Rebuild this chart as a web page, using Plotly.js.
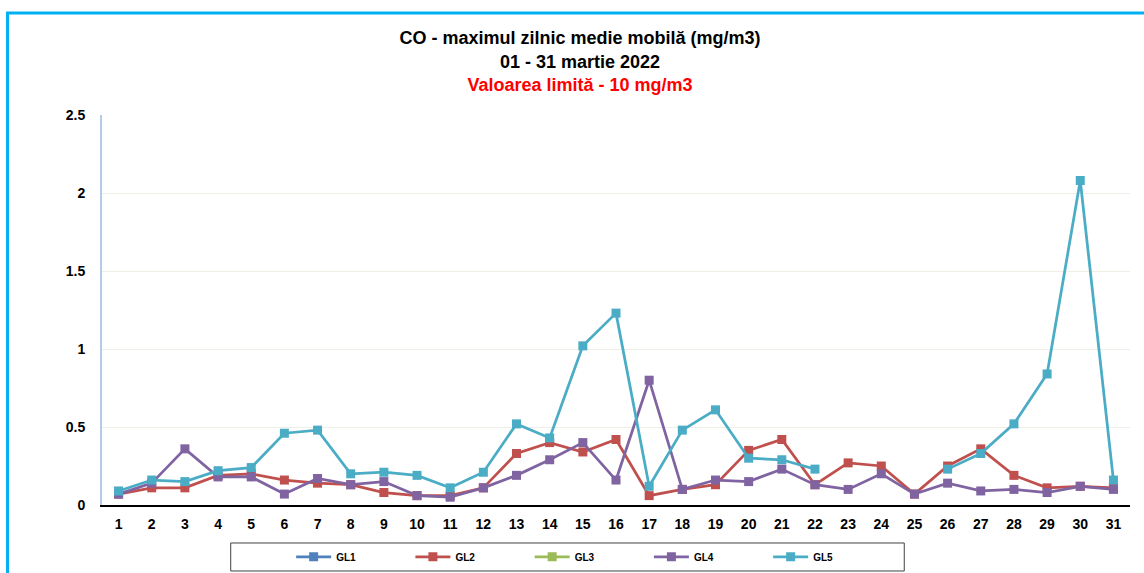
<!DOCTYPE html>
<html>
<head>
<meta charset="utf-8">
<script src="https://cdn.plot.ly/plotly-3.0.1.min.js"></script>
<style>html,body{margin:0;padding:0;background:#fff;}#chart{width:1144px;height:573px;}</style>
</head>
<body>
<div id="chart"></div>
<script>
var days = [1,2,3,4,5,6,7,8,9,10,11,12,13,14,15,16,17,18,19,20,21,22,23,24,25,26,27,28,29,30,31];
var seriesNames = ["GL1","GL2","GL3","GL4","GL5"];
var seriesColors = ["#4f81bd","#c0504d","#9bbb59","#8064a2","#4bacc6"];
var gl1 = [null,null,null,null,null,null,null,null,null,null,null,null,null,null,null,null,null,null,null,null,null,null,null,null,null,null,null,null,null,null,null];
var gl2 = [0.07,0.11,0.11,0.19,0.20,0.16,0.14,0.13,0.08,0.06,0.06,0.11,0.33,0.40,0.34,0.42,0.06,0.10,0.13,0.35,0.42,0.13,0.27,0.25,0.07,0.25,0.36,0.19,0.11,0.12,0.11];
var gl3 = [null,null,null,null,null,null,null,null,null,null,null,null,null,null,null,null,null,null,null,null,null,null,null,null,null,null,null,null,null,null,null];
var gl4 = [0.07,0.14,0.36,0.18,0.18,0.07,0.17,0.13,0.15,0.06,0.05,0.11,0.19,0.29,0.40,0.16,0.80,0.10,0.16,0.15,0.23,0.13,0.10,0.20,0.07,0.14,0.09,0.10,0.08,0.12,0.10];
var gl5 = [0.09,0.16,0.15,0.22,0.24,0.46,0.48,0.20,0.21,0.19,0.11,0.21,0.52,0.43,1.02,1.23,0.12,0.48,0.61,0.30,0.29,0.23,null,null,null,0.23,0.33,0.52,0.84,2.08,0.16];
var seriesValues = [gl1, gl2, gl3, gl4, gl5];
var tickLabels = days.map(String);

var traces = seriesValues.map(function(vals, i){
  return {
    type: 'scatter', mode: 'lines+markers',
    name: seriesNames[i], x: days, y: vals,
    connectgaps: false,
    line: {color: seriesColors[i], width: 2.75},
    marker: {symbol: 'square', size: 9, color: seriesColors[i]},
    hoverinfo: 'x+y+name'
  };
});

var layout = {
  width: 1144, height: 573,
  margin: {l: 102.4, r: 14.4, t: 115, b: 68, pad: 0, autoexpand: false},
  paper_bgcolor: '#ffffff', plot_bgcolor: '#ffffff',
  font: {family: 'Liberation Sans, Arial, sans-serif', color: '#000'},
  title: {
    text: '<b>CO - maximul zilnic medie mobilă (mg/m3)</b><br><b>01 - 31 martie 2022</b><br><b><span style="color:#ff0000">Valoarea limită - 10 mg/m3</span></b>',
    font: {size: 18, color: '#000', family: 'Liberation Sans, Arial, sans-serif'},
    x: 0.507, xanchor: 'center', xref: 'container',
    y: 0.923, yanchor: 'top', yref: 'container'
  },
  xaxis: {
    range: [0.5, 31.5], tickmode: 'array', tickvals: days, ticktext: tickLabels,
    showgrid: false, zeroline: false, showline: true, linecolor: '#000', linewidth: 1.5,
    ticks: '', tickfont: {size: 14, color: '#000', family: 'Liberation Sans, Arial, sans-serif', weight: 'bold'},
    ticklabelstandoff: 6, fixedrange: true
  },
  yaxis: {
    range: [0, 2.5], dtick: 0.5, tick0: 0,
    showgrid: true, gridcolor: '#efefe6', gridwidth: 1,
    zeroline: false, showline: true, linecolor: '#b4cbe8', linewidth: 2,
    ticks: '', tickfont: {size: 14, color: '#000', family: 'Liberation Sans, Arial, sans-serif', weight: 'bold'},
    ticklabelstandoff: 12, fixedrange: true
  },
  showlegend: true,
  legend: {
    orientation: 'h', x: 0.184, xanchor: 'left', y: -0.133, yanchor: 'middle',
    xref: 'paper', yref: 'paper',
    font: {size: 10, color: '#000', family: 'Liberation Sans Narrow, Liberation Sans, Arial, sans-serif', weight: 'bold'},
    bgcolor: 'rgba(0,0,0,0)', borderwidth: 0,
    entrywidth: 69.25, entrywidthmode: 'pixels', itemwidth: 35
  },
  shapes: [
    {type: 'rect', xref: 'paper', yref: 'paper', x0: 0.1252, x1: 0.7804, y0: -0.1692, y1: -0.0974,
     line: {color: '#404040', width: 1}, fillcolor: 'rgba(0,0,0,0)', layer: 'below'},
    {type: 'rect', xref: 'paper', yref: 'paper', x0: -0.0919, x1: 1.03, y0: -0.25, y1: 1.2615,
     line: {color: '#00b0f0', width: 3}, fillcolor: 'rgba(0,0,0,0)', layer: 'above'}
  ]
};

Plotly.newPlot('chart', traces, layout, {displayModeBar: false, staticPlot: true});
</script>
</body>
</html>
